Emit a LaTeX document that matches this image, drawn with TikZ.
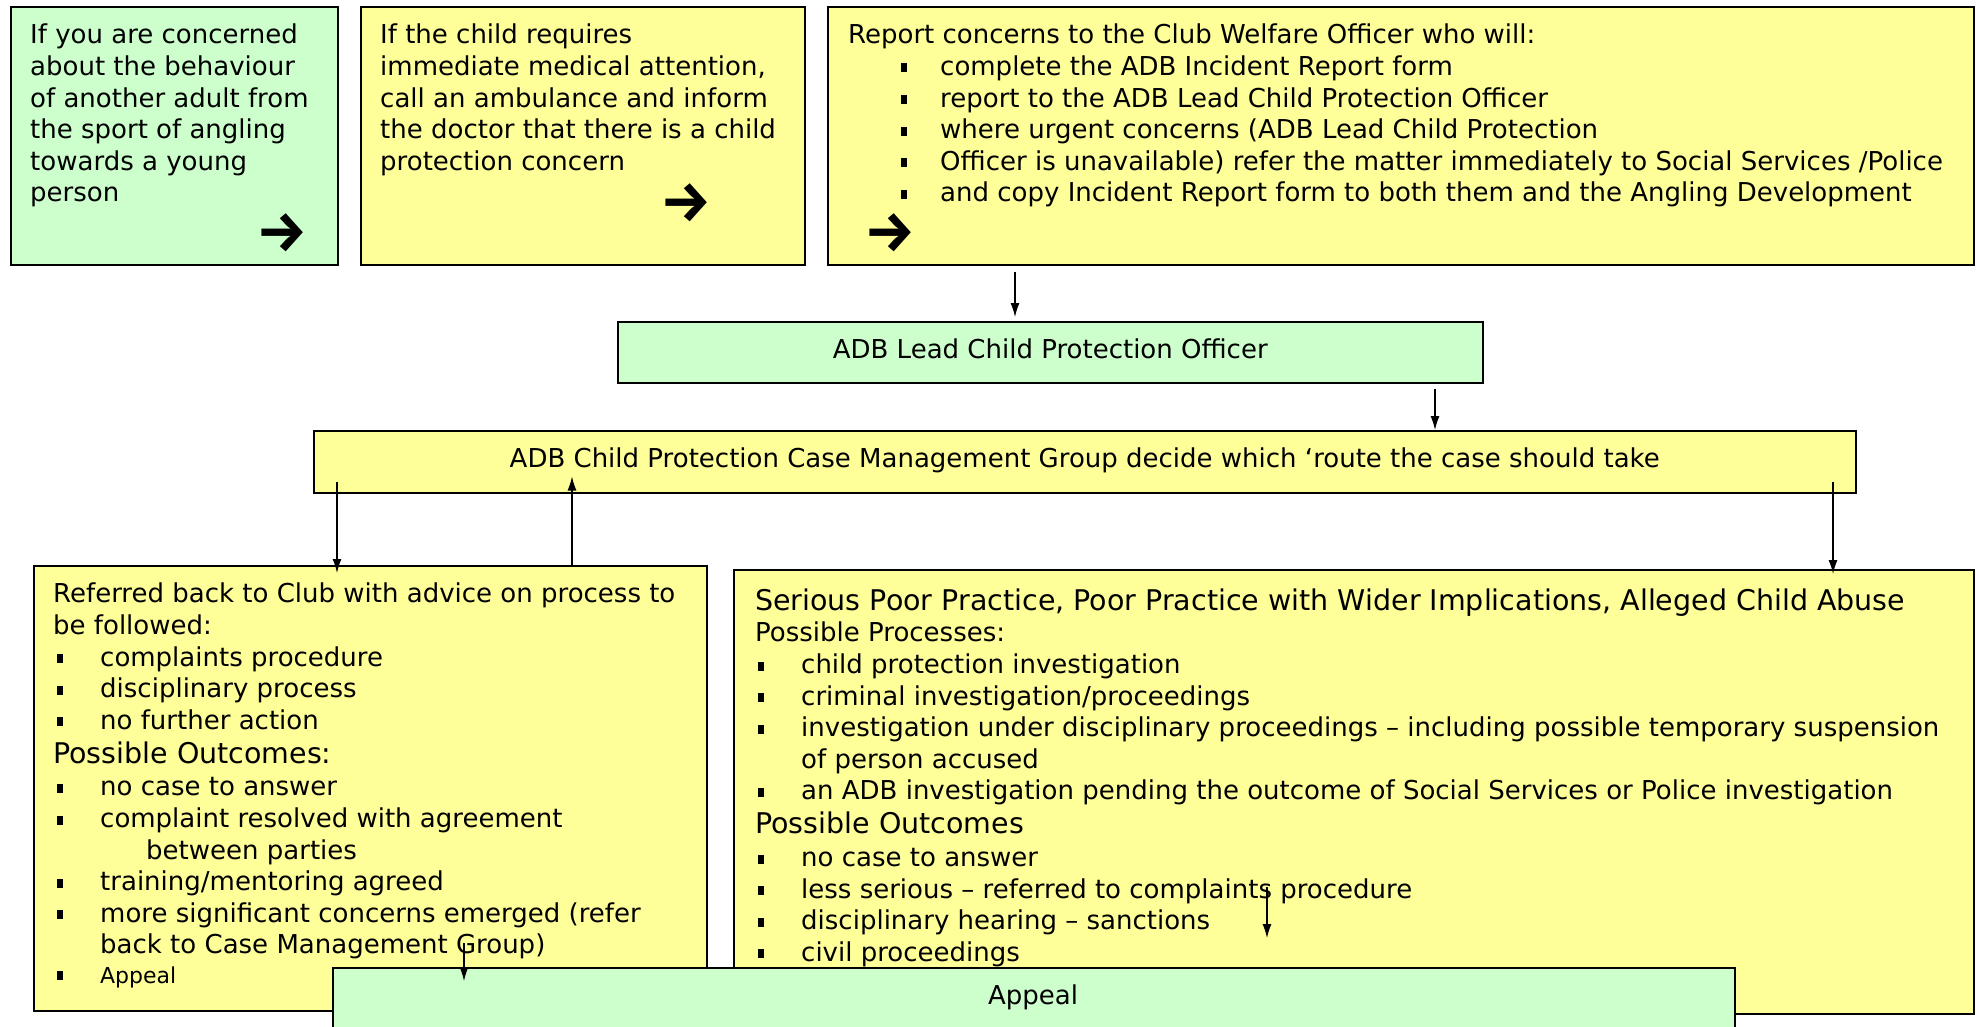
\documentclass[tikz,border=0pt]{standalone}
\usepackage{fontspec}
\setmainfont{DejaVu Sans}
\newfontfamily\arrowfont{Fira Sans}
\usetikzlibrary{arrows.meta}
\definecolor{mint}{HTML}{CCFFCC}
\definecolor{pale}{HTML}{FFFF99}
% square bullet: #1 = indent of the square, #2 = indent of the item text
\newcommand{\sqbullet}[2]{\makebox[#2][l]{\hspace*{#1}\rule[3pt]{6pt}{9pt}}}
\newcommand{\tbul}{\sqbullet{53pt}{92pt}}
\newcommand{\lbul}{\sqbullet{4pt}{47pt}}
\newcommand{\rbul}{\sqbullet{3pt}{46pt}}
\newcommand{\bigline}{\fontsize{28.5}{34}\selectfont}
\tikzset{
  box/.style={draw=black, line width=1.5pt, inner sep=0pt, anchor=north west},
  gbox/.style={box, fill=mint},
  ybox/.style={box, fill=pale},
  cbox/.style={draw=black, line width=1.5pt, inner sep=0pt, anchor=north west,
    font=\fontsize{26}{31.6}\selectfont},
  txt/.style={anchor=north west, align=left, inner sep=0pt,
    font=\fontsize{26}{31.6}\selectfont},
  goarrow/.style={inner sep=0pt, font=\arrowfont\bfseries\fontsize{57}{57}\selectfont},
  arr/.style={line width=1.3pt, -{Latex[length=14pt,width=9pt]}},
}
\begin{document}
\begin{tikzpicture}[x=1pt,y=-1pt]
\path[use as bounding box, fill=white] (0,0) rectangle (1979,1026);
\clip (0,0) rectangle (1979,1026);

% top row
\node[gbox, minimum width=327pt, minimum height=258pt] (concern) at (10,6) {};
\node[txt] (concerntxt) at (30,21.5) {\strut If you are concerned\\about the behaviour\\of another adult from\\the sport of angling\\towards a young\\person};
\node[goarrow] (go1) at (282,233) {→};

\node[ybox, minimum width=444pt, minimum height=258pt] (medical) at (360,6) {};
\node[txt] (medicaltxt) at (380,21.5) {\strut If the child requires\\immediate medical attention,\\call an ambulance and inform\\the doctor that there is a child\\protection concern};
\node[goarrow] (go2) at (686,203) {→};

\node[ybox, minimum width=1146pt, minimum height=258pt] (report) at (827,6) {};
\node[txt] (reporttxt) at (848,21.5) {\strut Report concerns to the Club Welfare Officer who will:\\
\tbul complete the ADB Incident Report form\\
\tbul report to the ADB Lead Child Protection Officer\\
\tbul where urgent concerns (ADB Lead Child Protection\\
\tbul Officer is unavailable) refer the matter immediately to Social Services /Police\\
\tbul and copy Incident Report form to both them and the Angling Development};
\node[goarrow] (go3) at (890,233) {→};

% middle
\node[cbox, fill=mint, minimum width=865pt, minimum height=61pt, text depth=8pt] (lead) at (617,321) {ADB Lead Child Protection Officer};
\node[cbox, fill=pale, minimum width=1542pt, minimum height=62pt, text depth=8pt] (case) at (313,430) {ADB Child Protection Case Management Group decide which ‘route the case should take};

% bottom
\node[ybox, minimum width=673pt, minimum height=445pt] (club) at (33,565) {};
\node[txt] (clubtxt) at (53,580.5) {\strut Referred back to Club with advice on process to\\
be followed:\\
\lbul complaints procedure\\
\lbul disciplinary process\\
\lbul no further action\\[3pt]
{\bigline Possible Outcomes:}\\[0.5pt]
\lbul no case to answer\\
\lbul complaint resolved with agreement\\
\hspace*{93pt}between parties\\
\lbul training/mentoring agreed\\
\lbul more significant concerns emerged (refer\\
\hspace*{47pt}back to Case Management Group)\\[-2.5pt]
\lbul{\fontsize{22}{26}\selectfont Appeal}};

\node[ybox, minimum width=1240pt, minimum height=444pt] (serious) at (733,569) {};
\node[txt] (serioustxt) at (755,588) {\strut{\bigline Serious Poor Practice, Poor Practice with Wider Implications, Alleged Child Abuse}\\
Possible Processes:\\
\rbul child protection investigation\\
\rbul criminal investigation/proceedings\\
\rbul investigation under disciplinary proceedings – including possible temporary suspension\\
\hspace*{46pt}of person accused\\
\rbul an ADB investigation pending the outcome of Social Services or Police investigation\\[2pt]
{\bigline Possible Outcomes}\\[1.5pt]
\rbul no case to answer\\
\rbul less serious – referred to complaints procedure\\
\rbul disciplinary hearing – sanctions\\
\rbul civil proceedings};

\node[gbox, minimum width=1402pt, minimum height=90pt] (appeal) at (332,967) {};
\node[inner sep=0pt, font=\fontsize{26}{31.6}\selectfont] (appealtxt) at (1033,997.5) {Appeal};

% connectors
\coordinate (x1) at (1015,0);
\coordinate (x2) at (1435,0);
\coordinate (x3) at (337,0);
\coordinate (x4) at (572,0);
\coordinate (x5) at (1833,0);
\coordinate (x6) at (464,0);
\coordinate (x7) at (1267,0);
\draw[arr] ([yshift=-6pt]report.south -| x1) -- ([yshift=4pt]lead.north -| x1);
\draw[arr] ([yshift=-5pt]lead.south -| x2) -- (case.north -| x2);
\draw[arr] ([yshift=12pt]case.south -| x3) -- ([yshift=-8pt]club.north -| x3);
\draw[arr] ([yshift=-2pt]club.north -| x4) -- ([yshift=17pt]case.south -| x4);
\draw[arr] ([yshift=12pt]case.south -| x5) -- ([yshift=-5pt]serious.north -| x5);
\draw[arr] ([yshift=24pt]appeal.north -| x6) -- ([yshift=-14pt]appeal.north -| x6);
\draw[arr] ([yshift=80pt]appeal.north -| x7) -- ([yshift=29pt]appeal.north -| x7);
\end{tikzpicture}
\end{document}
